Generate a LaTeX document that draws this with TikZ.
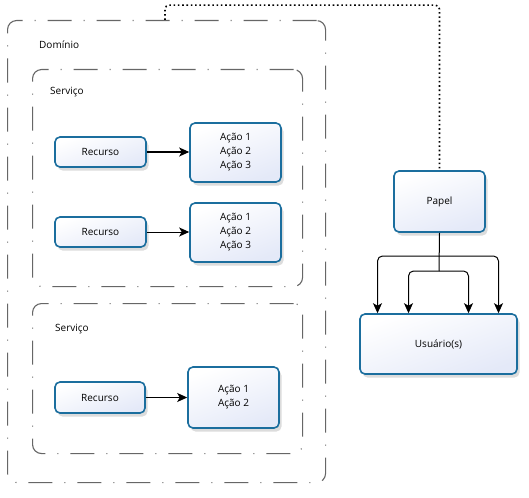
\documentclass[tikz,border=0pt]{standalone}
\usepackage{fontspec}
\setmainfont{Open Sans}
\usetikzlibrary{arrows.meta,shadows}
\definecolor{boxline}{HTML}{1B6E9E}
\definecolor{boxfill}{HTML}{E4E9F8}
\definecolor{frameline}{HTML}{666666}
\tikzset{
  item/.style={draw=boxline, line width=1.6pt, rounded corners=5pt,
    top color=white, bottom color=boxfill, shading angle=20,
    drop shadow={opacity=0.28, shadow xshift=2.5pt, shadow yshift=-3.5pt},
    align=center, font=\fontsize{10}{14}\selectfont, inner sep=2pt},
  frame/.style={draw=frameline, line width=1.1pt, rounded corners=9pt,
    dash pattern=on 24pt off 12pt on 1pt off 12pt, inner sep=0pt},
  tag/.style={anchor=west, font=\fontsize{10}{12}\selectfont, inner sep=0pt},
  link/.style={line width=1pt, -{Stealth[length=10pt,width=9pt,inset=2.5pt]}},
  assoc/.style={line width=1.6pt, dash pattern=on 1.6pt off 2.7pt, rounded corners=4pt}
}
\begin{document}
\begin{tikzpicture}[x=1pt,y=-1pt]
     \useasboundingbox (0,0) rectangle (529,497);
     \node[frame, anchor=north west, minimum width=318pt, minimum height=462pt] (dominio) at (7,20){};
     \node[frame, anchor=north west, minimum width=270pt, minimum height=217pt] (servico1) at (32,69){};
     \node[frame, anchor=north west, minimum width=270pt, minimum height=150pt] (servico2) at (32,303){};
     \node[tag] at (39,45){Domínio};
     \node[tag] at (50,92){Serviço};
     \node[tag] at (55,329){Serviço};

     \node[item, minimum width=91pt, minimum height=30pt] (rec1) at (100.5,152){Recurso};
     \node[item, minimum width=91pt, minimum height=59pt] (acao1) at (235.5,152.5){Ação 1\\Ação 2\\Ação 3};
     \node[item, minimum width=91pt, minimum height=30pt] (rec2) at (100.5,232){Recurso};
     \node[item, minimum width=91pt, minimum height=59pt] (acao2) at (235.5,232.5){Ação 1\\Ação 2\\Ação 3};
     \node[item, minimum width=90pt, minimum height=31pt] (rec3) at (100,397.5){Recurso};
     \node[item, minimum width=91pt, minimum height=61pt] (acao3) at (233.5,397.5){Ação 1\\Ação 2};

     \node[item, minimum width=91pt, minimum height=61pt] (papel) at (439.5,201.5){Papel};
     \node[item, minimum width=157pt, minimum height=60pt] (usuario) at (438.5,344){Usuário(s)};

     \draw[link] (rec1.east) -- (acao1.west |- rec1.east);
     \draw[link] (rec2.east) -- (acao2.west |- rec2.east);
     \draw[link] (rec3.east) -- (acao3.west |- rec3.east);

     \coordinate (fork1) at (439,256);
     \coordinate (fork2) at (439,271);
     \draw[line width=1pt] (papel.south) -- (fork2);
     \draw[link, rounded corners=5pt] (fork1) -| ([xshift=-61pt]usuario.north);
     \draw[link, rounded corners=5pt] (fork1) -| ([xshift=60pt]usuario.north);
     \draw[link, rounded corners=5pt] (fork2) -| ([xshift=-30pt]usuario.north);
     \draw[link, rounded corners=5pt] (fork2) -| ([xshift=30pt]usuario.north);

     \draw[assoc] ([xshift=158pt]dominio.north west) |- ([yshift=165pt]papel.north) -- (papel.north);

     \end{tikzpicture}
\end{document}
